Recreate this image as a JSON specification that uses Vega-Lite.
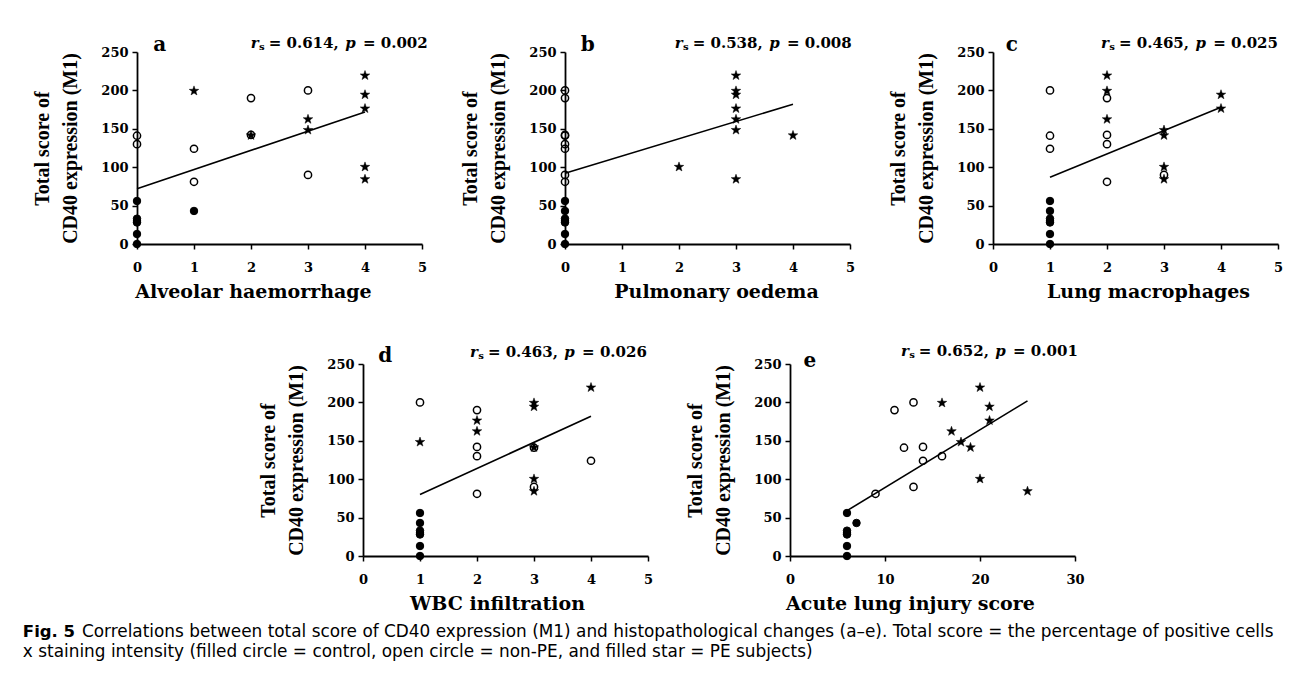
{
  "$schema": "https://vega.github.io/schema/vega-lite/v6.json",
  "background": "white",
  "padding": {"left": 22, "top": 35, "right": 5, "bottom": 5},
  "datasets": {
    "pts": [
      {"panel":"a","x":0,"y":56,"group":"control"},{"panel":"a","x":0,"y":33,"group":"control"},{"panel":"a","x":0,"y":30,"group":"control"},{"panel":"a","x":0,"y":28,"group":"control"},{"panel":"a","x":0,"y":13,"group":"control"},{"panel":"a","x":0,"y":0,"group":"control"},{"panel":"a","x":1,"y":43,"group":"control"},
      {"panel":"a","x":0,"y":141,"group":"non-PE"},{"panel":"a","x":0,"y":130,"group":"non-PE"},{"panel":"a","x":1,"y":124,"group":"non-PE"},{"panel":"a","x":1,"y":81,"group":"non-PE"},{"panel":"a","x":2,"y":190,"group":"non-PE"},{"panel":"a","x":2,"y":142,"group":"non-PE"},{"panel":"a","x":3,"y":200,"group":"non-PE"},{"panel":"a","x":3,"y":90,"group":"non-PE"},
      {"panel":"a","x":1,"y":200,"group":"PE"},{"panel":"a","x":2,"y":142,"group":"PE"},{"panel":"a","x":3,"y":163,"group":"PE"},{"panel":"a","x":3,"y":149,"group":"PE"},{"panel":"a","x":4,"y":220,"group":"PE"},{"panel":"a","x":4,"y":195,"group":"PE"},{"panel":"a","x":4,"y":177,"group":"PE"},{"panel":"a","x":4,"y":101,"group":"PE"},{"panel":"a","x":4,"y":85,"group":"PE"},

      {"panel":"b","x":0,"y":56,"group":"control"},{"panel":"b","x":0,"y":43,"group":"control"},{"panel":"b","x":0,"y":33,"group":"control"},{"panel":"b","x":0,"y":30,"group":"control"},{"panel":"b","x":0,"y":28,"group":"control"},{"panel":"b","x":0,"y":13,"group":"control"},{"panel":"b","x":0,"y":0,"group":"control"},
      {"panel":"b","x":0,"y":200,"group":"non-PE"},{"panel":"b","x":0,"y":190,"group":"non-PE"},{"panel":"b","x":0,"y":142,"group":"non-PE"},{"panel":"b","x":0,"y":141,"group":"non-PE"},{"panel":"b","x":0,"y":130,"group":"non-PE"},{"panel":"b","x":0,"y":124,"group":"non-PE"},{"panel":"b","x":0,"y":90,"group":"non-PE"},{"panel":"b","x":0,"y":81,"group":"non-PE"},
      {"panel":"b","x":2,"y":101,"group":"PE"},{"panel":"b","x":3,"y":220,"group":"PE"},{"panel":"b","x":3,"y":200,"group":"PE"},{"panel":"b","x":3,"y":195,"group":"PE"},{"panel":"b","x":3,"y":177,"group":"PE"},{"panel":"b","x":3,"y":163,"group":"PE"},{"panel":"b","x":3,"y":149,"group":"PE"},{"panel":"b","x":3,"y":85,"group":"PE"},{"panel":"b","x":4,"y":142,"group":"PE"},

      {"panel":"c","x":1,"y":56,"group":"control"},{"panel":"c","x":1,"y":43,"group":"control"},{"panel":"c","x":1,"y":33,"group":"control"},{"panel":"c","x":1,"y":30,"group":"control"},{"panel":"c","x":1,"y":28,"group":"control"},{"panel":"c","x":1,"y":13,"group":"control"},{"panel":"c","x":1,"y":0,"group":"control"},
      {"panel":"c","x":1,"y":200,"group":"non-PE"},{"panel":"c","x":1,"y":141,"group":"non-PE"},{"panel":"c","x":1,"y":124,"group":"non-PE"},{"panel":"c","x":2,"y":190,"group":"non-PE"},{"panel":"c","x":2,"y":142,"group":"non-PE"},{"panel":"c","x":2,"y":130,"group":"non-PE"},{"panel":"c","x":2,"y":81,"group":"non-PE"},{"panel":"c","x":3,"y":90,"group":"non-PE"},
      {"panel":"c","x":2,"y":220,"group":"PE"},{"panel":"c","x":2,"y":200,"group":"PE"},{"panel":"c","x":2,"y":163,"group":"PE"},{"panel":"c","x":3,"y":149,"group":"PE"},{"panel":"c","x":3,"y":142,"group":"PE"},{"panel":"c","x":3,"y":101,"group":"PE"},{"panel":"c","x":3,"y":85,"group":"PE"},{"panel":"c","x":4,"y":195,"group":"PE"},{"panel":"c","x":4,"y":177,"group":"PE"},

      {"panel":"d","x":1,"y":56,"group":"control"},{"panel":"d","x":1,"y":43,"group":"control"},{"panel":"d","x":1,"y":33,"group":"control"},{"panel":"d","x":1,"y":30,"group":"control"},{"panel":"d","x":1,"y":28,"group":"control"},{"panel":"d","x":1,"y":13,"group":"control"},{"panel":"d","x":1,"y":0,"group":"control"},
      {"panel":"d","x":1,"y":200,"group":"non-PE"},{"panel":"d","x":2,"y":190,"group":"non-PE"},{"panel":"d","x":2,"y":142,"group":"non-PE"},{"panel":"d","x":2,"y":130,"group":"non-PE"},{"panel":"d","x":2,"y":81,"group":"non-PE"},{"panel":"d","x":3,"y":141,"group":"non-PE"},{"panel":"d","x":3,"y":90,"group":"non-PE"},{"panel":"d","x":4,"y":124,"group":"non-PE"},
      {"panel":"d","x":1,"y":149,"group":"PE"},{"panel":"d","x":2,"y":177,"group":"PE"},{"panel":"d","x":2,"y":163,"group":"PE"},{"panel":"d","x":3,"y":200,"group":"PE"},{"panel":"d","x":3,"y":195,"group":"PE"},{"panel":"d","x":3,"y":142,"group":"PE"},{"panel":"d","x":3,"y":101,"group":"PE"},{"panel":"d","x":3,"y":85,"group":"PE"},{"panel":"d","x":4,"y":220,"group":"PE"},

      {"panel":"e","x":6,"y":56,"group":"control"},{"panel":"e","x":7,"y":43,"group":"control"},{"panel":"e","x":6,"y":33,"group":"control"},{"panel":"e","x":6,"y":30,"group":"control"},{"panel":"e","x":6,"y":28,"group":"control"},{"panel":"e","x":6,"y":13,"group":"control"},{"panel":"e","x":6,"y":0,"group":"control"},
      {"panel":"e","x":9,"y":81,"group":"non-PE"},{"panel":"e","x":11,"y":190,"group":"non-PE"},{"panel":"e","x":12,"y":141,"group":"non-PE"},{"panel":"e","x":13,"y":200,"group":"non-PE"},{"panel":"e","x":13,"y":90,"group":"non-PE"},{"panel":"e","x":14,"y":142,"group":"non-PE"},{"panel":"e","x":14,"y":124,"group":"non-PE"},{"panel":"e","x":16,"y":130,"group":"non-PE"},
      {"panel":"e","x":16,"y":200,"group":"PE"},{"panel":"e","x":17,"y":163,"group":"PE"},{"panel":"e","x":18,"y":149,"group":"PE"},{"panel":"e","x":19,"y":142,"group":"PE"},{"panel":"e","x":20,"y":220,"group":"PE"},{"panel":"e","x":20,"y":101,"group":"PE"},{"panel":"e","x":21,"y":195,"group":"PE"},{"panel":"e","x":21,"y":177,"group":"PE"},{"panel":"e","x":25,"y":85,"group":"PE"}
    ],
    "fit": [
      {"panel":"a","x":0,"y":72,"x2":4,"y2":172},
      {"panel":"b","x":0,"y":92,"x2":4,"y2":182},
      {"panel":"c","x":1,"y":87,"x2":4,"y2":178},
      {"panel":"d","x":1,"y":80,"x2":4,"y2":182},
      {"panel":"e","x":6,"y":59,"x2":25,"y2":202}
    ],
    "letters": [
      {"panel":"a","x":0.4,"y":259,"label":"a"},
      {"panel":"b","x":0.4,"y":259,"label":"b"},
      {"panel":"c","x":0.33,"y":259,"label":"c"},
      {"panel":"d","x":0.39,"y":260,"label":"d"},
      {"panel":"e","x":2.1,"y":254,"label":"e"}
    ],
    "stats": [
      {"panel":"a","x":5.1,"y":262,"rs":"= 0.614,","pv":"= 0.002"},
      {"panel":"b","x":5.03,"y":262,"rs":"= 0.538,","pv":"= 0.008"},
      {"panel":"c","x":5.0,"y":262,"rs":"= 0.465,","pv":"= 0.025"},
      {"panel":"d","x":4.98,"y":265,"rs":"= 0.463,","pv":"= 0.026"},
      {"panel":"e","x":30.3,"y":267,"rs":"= 0.652,","pv":"= 0.001"}
    ]
  },
  "title": {
    "text": "Fig. 5",
    "subtitle": ["\u200b\u00a0\u00a0\u00a0\u00a0\u00a0\u00a0\u00a0\u00a0\u00a0\u00a0\u00a0Correlations between total score of CD40 expression (M1) and histopathological changes (a\u2013e). Total score = the percentage of positive cells", "x staining intensity (filled circle = control, open circle = non-PE, and filled star = PE subjects)"],
    "orient": "bottom",
    "anchor": "start",
    "frame": "bounds",
    "offset": 11,
    "dx": -10,
    "font": "DejaVu Sans",
    "fontSize": 16.5,
    "fontWeight": "bold",
    "color": "black",
    "subtitleFont": "DejaVu Sans",
    "subtitleFontSize": 16.9,
    "subtitleColor": "black",
    "subtitleLineHeight": 20,
    "subtitlePadding": -17
  },
  "spacing": 42,
  "vconcat": [
    {
      "hconcat": [
        {
          "width": 285, "height": 192,
          "encoding": {
            "x": {"field": "x", "type": "quantitative", "scale": {"domain": [0, 5], "nice": false, "zero": false}, "axis": {"title": "Alveolar haemorrhage", "values": [0, 1, 2, 3, 4, 5], "titleX": 116}},
            "y": {"field": "y", "type": "quantitative", "scale": {"domain": [0, 250], "nice": false}, "axis": {"title": ["Total score of", "CD40 expression (M1)"], "values": [0, 50, 100, 150, 200, 250]}}
          },
          "layer": [
            {"data": {"name": "pts"}, "transform": [{"filter": "datum.panel === 'a'"}], "mark": {"type": "point", "filled": true, "fill": "black", "stroke": "black", "opacity": 1},
             "encoding": {
               "shape": {"field": "group", "type": "nominal", "scale": {"domain": ["control", "non-PE", "PE"], "range": ["circle", "circle", "M0,-0.905L0.235,-0.229L0.951,-0.214L0.38,0.219L0.588,0.904L0,0.495L-0.588,0.904L-0.38,0.219L-0.951,-0.214L-0.235,-0.229Z"]}, "legend": null},
               "fillOpacity": {"field": "group", "type": "nominal", "scale": {"type": "ordinal", "domain": ["control", "non-PE", "PE"], "range": [1, 0, 1]}, "legend": null},
               "size": {"field": "group", "type": "nominal", "scale": {"type": "ordinal", "domain": ["control", "non-PE", "PE"], "range": [56, 52, 100]}, "legend": null},
               "strokeWidth": {"field": "group", "type": "nominal", "scale": {"type": "ordinal", "domain": ["control", "non-PE", "PE"], "range": [1, 1.5, 0.5]}, "legend": null}
             }},
            {"data": {"name": "fit"}, "transform": [{"filter": "datum.panel === 'a'"}], "mark": {"type": "rule", "color": "black", "strokeWidth": 1.6}, "encoding": {"x2": {"field": "x2"}, "y2": {"field": "y2"}}},
            {"data": {"name": "letters"}, "transform": [{"filter": "datum.panel === 'a'"}], "mark": {"type": "text", "style": "letter"}, "encoding": {"text": {"field": "label"}}},
            {"data": {"name": "stats"}, "transform": [{"filter": "datum.panel === 'a'"}], "mark": {"type": "text", "style": "stat", "fontStyle": "italic", "dx": -169}, "encoding": {"text": {"value": "r"}}},
            {"data": {"name": "stats"}, "transform": [{"filter": "datum.panel === 'a'"}], "mark": {"type": "text", "style": "stat", "fontSize": 10, "dx": -163, "dy": 4}, "encoding": {"text": {"value": "s"}}},
            {"data": {"name": "stats"}, "transform": [{"filter": "datum.panel === 'a'"}], "mark": {"type": "text", "style": "stat", "dx": -89}, "encoding": {"text": {"field": "rs"}}},
            {"data": {"name": "stats"}, "transform": [{"filter": "datum.panel === 'a'"}], "mark": {"type": "text", "style": "stat", "fontStyle": "italic", "dx": -72}, "encoding": {"text": {"value": "p"}}},
            {"data": {"name": "stats"}, "transform": [{"filter": "datum.panel === 'a'"}], "mark": {"type": "text", "style": "stat"}, "encoding": {"text": {"field": "pv"}}}
          ]
        },
        {
          "width": 285, "height": 192,
          "encoding": {
            "x": {"field": "x", "type": "quantitative", "scale": {"domain": [0, 5], "nice": false, "zero": false}, "axis": {"title": "Pulmonary oedema", "values": [0, 1, 2, 3, 4, 5], "titleX": 151}},
            "y": {"field": "y", "type": "quantitative", "scale": {"domain": [0, 250], "nice": false}, "axis": {"title": ["Total score of", "CD40 expression (M1)"], "values": [0, 50, 100, 150, 200, 250]}}
          },
          "layer": [
            {"data": {"name": "pts"}, "transform": [{"filter": "datum.panel === 'b'"}], "mark": {"type": "point", "filled": true, "fill": "black", "stroke": "black", "opacity": 1},
             "encoding": {
               "shape": {"field": "group", "type": "nominal", "scale": {"domain": ["control", "non-PE", "PE"], "range": ["circle", "circle", "M0,-0.905L0.235,-0.229L0.951,-0.214L0.38,0.219L0.588,0.904L0,0.495L-0.588,0.904L-0.38,0.219L-0.951,-0.214L-0.235,-0.229Z"]}, "legend": null},
               "fillOpacity": {"field": "group", "type": "nominal", "scale": {"type": "ordinal", "domain": ["control", "non-PE", "PE"], "range": [1, 0, 1]}, "legend": null},
               "size": {"field": "group", "type": "nominal", "scale": {"type": "ordinal", "domain": ["control", "non-PE", "PE"], "range": [56, 52, 100]}, "legend": null},
               "strokeWidth": {"field": "group", "type": "nominal", "scale": {"type": "ordinal", "domain": ["control", "non-PE", "PE"], "range": [1, 1.5, 0.5]}, "legend": null}
             }},
            {"data": {"name": "fit"}, "transform": [{"filter": "datum.panel === 'b'"}], "mark": {"type": "rule", "color": "black", "strokeWidth": 1.6}, "encoding": {"x2": {"field": "x2"}, "y2": {"field": "y2"}}},
            {"data": {"name": "letters"}, "transform": [{"filter": "datum.panel === 'b'"}], "mark": {"type": "text", "style": "letter"}, "encoding": {"text": {"field": "label"}}},
            {"data": {"name": "stats"}, "transform": [{"filter": "datum.panel === 'b'"}], "mark": {"type": "text", "style": "stat", "fontStyle": "italic", "dx": -169}, "encoding": {"text": {"value": "r"}}},
            {"data": {"name": "stats"}, "transform": [{"filter": "datum.panel === 'b'"}], "mark": {"type": "text", "style": "stat", "fontSize": 10, "dx": -163, "dy": 4}, "encoding": {"text": {"value": "s"}}},
            {"data": {"name": "stats"}, "transform": [{"filter": "datum.panel === 'b'"}], "mark": {"type": "text", "style": "stat", "dx": -89}, "encoding": {"text": {"field": "rs"}}},
            {"data": {"name": "stats"}, "transform": [{"filter": "datum.panel === 'b'"}], "mark": {"type": "text", "style": "stat", "fontStyle": "italic", "dx": -72}, "encoding": {"text": {"value": "p"}}},
            {"data": {"name": "stats"}, "transform": [{"filter": "datum.panel === 'b'"}], "mark": {"type": "text", "style": "stat"}, "encoding": {"text": {"field": "pv"}}}
          ]
        },
        {
          "width": 285, "height": 192,
          "encoding": {
            "x": {"field": "x", "type": "quantitative", "scale": {"domain": [0, 5], "nice": false, "zero": false}, "axis": {"title": "Lung macrophages", "values": [0, 1, 2, 3, 4, 5], "titleX": 155}},
            "y": {"field": "y", "type": "quantitative", "scale": {"domain": [0, 250], "nice": false}, "axis": {"title": ["Total score of", "CD40 expression (M1)"], "values": [0, 50, 100, 150, 200, 250]}}
          },
          "layer": [
            {"data": {"name": "pts"}, "transform": [{"filter": "datum.panel === 'c'"}], "mark": {"type": "point", "filled": true, "fill": "black", "stroke": "black", "opacity": 1},
             "encoding": {
               "shape": {"field": "group", "type": "nominal", "scale": {"domain": ["control", "non-PE", "PE"], "range": ["circle", "circle", "M0,-0.905L0.235,-0.229L0.951,-0.214L0.38,0.219L0.588,0.904L0,0.495L-0.588,0.904L-0.38,0.219L-0.951,-0.214L-0.235,-0.229Z"]}, "legend": null},
               "fillOpacity": {"field": "group", "type": "nominal", "scale": {"type": "ordinal", "domain": ["control", "non-PE", "PE"], "range": [1, 0, 1]}, "legend": null},
               "size": {"field": "group", "type": "nominal", "scale": {"type": "ordinal", "domain": ["control", "non-PE", "PE"], "range": [56, 52, 100]}, "legend": null},
               "strokeWidth": {"field": "group", "type": "nominal", "scale": {"type": "ordinal", "domain": ["control", "non-PE", "PE"], "range": [1, 1.5, 0.5]}, "legend": null}
             }},
            {"data": {"name": "fit"}, "transform": [{"filter": "datum.panel === 'c'"}], "mark": {"type": "rule", "color": "black", "strokeWidth": 1.6}, "encoding": {"x2": {"field": "x2"}, "y2": {"field": "y2"}}},
            {"data": {"name": "letters"}, "transform": [{"filter": "datum.panel === 'c'"}], "mark": {"type": "text", "style": "letter"}, "encoding": {"text": {"field": "label"}}},
            {"data": {"name": "stats"}, "transform": [{"filter": "datum.panel === 'c'"}], "mark": {"type": "text", "style": "stat", "fontStyle": "italic", "dx": -169}, "encoding": {"text": {"value": "r"}}},
            {"data": {"name": "stats"}, "transform": [{"filter": "datum.panel === 'c'"}], "mark": {"type": "text", "style": "stat", "fontSize": 10, "dx": -163, "dy": 4}, "encoding": {"text": {"value": "s"}}},
            {"data": {"name": "stats"}, "transform": [{"filter": "datum.panel === 'c'"}], "mark": {"type": "text", "style": "stat", "dx": -89}, "encoding": {"text": {"field": "rs"}}},
            {"data": {"name": "stats"}, "transform": [{"filter": "datum.panel === 'c'"}], "mark": {"type": "text", "style": "stat", "fontStyle": "italic", "dx": -72}, "encoding": {"text": {"value": "p"}}},
            {"data": {"name": "stats"}, "transform": [{"filter": "datum.panel === 'c'"}], "mark": {"type": "text", "style": "stat"}, "encoding": {"text": {"field": "pv"}}}
          ]
        }
      ],
      "spacing": 143,
      "bounds": "flush"
    },
    {
      "hconcat": [
        {
          "width": 84, "height": 192,
          "data": {"values": []},
          "mark": {"type": "point", "opacity": 0},
          "encoding": {}
        },
        {
          "width": 285, "height": 192,
          "encoding": {
            "x": {"field": "x", "type": "quantitative", "scale": {"domain": [0, 5], "nice": false, "zero": false}, "axis": {"title": "WBC infiltration", "values": [0, 1, 2, 3, 4, 5], "titleX": 134}},
            "y": {"field": "y", "type": "quantitative", "scale": {"domain": [0, 250], "nice": false}, "axis": {"title": ["Total score of", "CD40 expression (M1)"], "values": [0, 50, 100, 150, 200, 250]}}
          },
          "layer": [
            {"data": {"name": "pts"}, "transform": [{"filter": "datum.panel === 'd'"}], "mark": {"type": "point", "filled": true, "fill": "black", "stroke": "black", "opacity": 1},
             "encoding": {
               "shape": {"field": "group", "type": "nominal", "scale": {"domain": ["control", "non-PE", "PE"], "range": ["circle", "circle", "M0,-0.905L0.235,-0.229L0.951,-0.214L0.38,0.219L0.588,0.904L0,0.495L-0.588,0.904L-0.38,0.219L-0.951,-0.214L-0.235,-0.229Z"]}, "legend": null},
               "fillOpacity": {"field": "group", "type": "nominal", "scale": {"type": "ordinal", "domain": ["control", "non-PE", "PE"], "range": [1, 0, 1]}, "legend": null},
               "size": {"field": "group", "type": "nominal", "scale": {"type": "ordinal", "domain": ["control", "non-PE", "PE"], "range": [56, 52, 100]}, "legend": null},
               "strokeWidth": {"field": "group", "type": "nominal", "scale": {"type": "ordinal", "domain": ["control", "non-PE", "PE"], "range": [1, 1.5, 0.5]}, "legend": null}
             }},
            {"data": {"name": "fit"}, "transform": [{"filter": "datum.panel === 'd'"}], "mark": {"type": "rule", "color": "black", "strokeWidth": 1.6}, "encoding": {"x2": {"field": "x2"}, "y2": {"field": "y2"}}},
            {"data": {"name": "letters"}, "transform": [{"filter": "datum.panel === 'd'"}], "mark": {"type": "text", "style": "letter"}, "encoding": {"text": {"field": "label"}}},
            {"data": {"name": "stats"}, "transform": [{"filter": "datum.panel === 'd'"}], "mark": {"type": "text", "style": "stat", "fontStyle": "italic", "dx": -169}, "encoding": {"text": {"value": "r"}}},
            {"data": {"name": "stats"}, "transform": [{"filter": "datum.panel === 'd'"}], "mark": {"type": "text", "style": "stat", "fontSize": 10, "dx": -163, "dy": 4}, "encoding": {"text": {"value": "s"}}},
            {"data": {"name": "stats"}, "transform": [{"filter": "datum.panel === 'd'"}], "mark": {"type": "text", "style": "stat", "dx": -89}, "encoding": {"text": {"field": "rs"}}},
            {"data": {"name": "stats"}, "transform": [{"filter": "datum.panel === 'd'"}], "mark": {"type": "text", "style": "stat", "fontStyle": "italic", "dx": -72}, "encoding": {"text": {"value": "p"}}},
            {"data": {"name": "stats"}, "transform": [{"filter": "datum.panel === 'd'"}], "mark": {"type": "text", "style": "stat"}, "encoding": {"text": {"field": "pv"}}}
          ]
        },
        {
          "width": 285, "height": 192,
          "encoding": {
            "x": {"field": "x", "type": "quantitative", "scale": {"domain": [0, 30], "nice": false, "zero": false}, "axis": {"title": "Acute lung injury score", "values": [0, 10, 20, 30], "titleX": 120}},
            "y": {"field": "y", "type": "quantitative", "scale": {"domain": [0, 250], "nice": false}, "axis": {"title": ["Total score of", "CD40 expression (M1)"], "values": [0, 50, 100, 150, 200, 250]}}
          },
          "layer": [
            {"data": {"name": "pts"}, "transform": [{"filter": "datum.panel === 'e'"}], "mark": {"type": "point", "filled": true, "fill": "black", "stroke": "black", "opacity": 1},
             "encoding": {
               "shape": {"field": "group", "type": "nominal", "scale": {"domain": ["control", "non-PE", "PE"], "range": ["circle", "circle", "M0,-0.905L0.235,-0.229L0.951,-0.214L0.38,0.219L0.588,0.904L0,0.495L-0.588,0.904L-0.38,0.219L-0.951,-0.214L-0.235,-0.229Z"]}, "legend": null},
               "fillOpacity": {"field": "group", "type": "nominal", "scale": {"type": "ordinal", "domain": ["control", "non-PE", "PE"], "range": [1, 0, 1]}, "legend": null},
               "size": {"field": "group", "type": "nominal", "scale": {"type": "ordinal", "domain": ["control", "non-PE", "PE"], "range": [56, 52, 100]}, "legend": null},
               "strokeWidth": {"field": "group", "type": "nominal", "scale": {"type": "ordinal", "domain": ["control", "non-PE", "PE"], "range": [1, 1.5, 0.5]}, "legend": null}
             }},
            {"data": {"name": "fit"}, "transform": [{"filter": "datum.panel === 'e'"}], "mark": {"type": "rule", "color": "black", "strokeWidth": 1.6}, "encoding": {"x2": {"field": "x2"}, "y2": {"field": "y2"}}},
            {"data": {"name": "letters"}, "transform": [{"filter": "datum.panel === 'e'"}], "mark": {"type": "text", "style": "letter"}, "encoding": {"text": {"field": "label"}}},
            {"data": {"name": "stats"}, "transform": [{"filter": "datum.panel === 'e'"}], "mark": {"type": "text", "style": "stat", "fontStyle": "italic", "dx": -169}, "encoding": {"text": {"value": "r"}}},
            {"data": {"name": "stats"}, "transform": [{"filter": "datum.panel === 'e'"}], "mark": {"type": "text", "style": "stat", "fontSize": 10, "dx": -163, "dy": 4}, "encoding": {"text": {"value": "s"}}},
            {"data": {"name": "stats"}, "transform": [{"filter": "datum.panel === 'e'"}], "mark": {"type": "text", "style": "stat", "dx": -89}, "encoding": {"text": {"field": "rs"}}},
            {"data": {"name": "stats"}, "transform": [{"filter": "datum.panel === 'e'"}], "mark": {"type": "text", "style": "stat", "fontStyle": "italic", "dx": -72}, "encoding": {"text": {"value": "p"}}},
            {"data": {"name": "stats"}, "transform": [{"filter": "datum.panel === 'e'"}], "mark": {"type": "text", "style": "stat"}, "encoding": {"text": {"field": "pv"}}}
          ]
        }
      ],
      "spacing": 142,
      "bounds": "flush"
    }
  ],
  "config": {
    "view": {"stroke": null},
    "axis": {"domainColor": "black", "domainWidth": 1.8, "tickColor": "black", "tickWidth": 1.5, "tickSize": 5, "grid": false, "labelFont": "DejaVu Serif", "labelFontWeight": "bold", "labelFontSize": 13, "labelColor": "black", "labelFlush": false, "labelOverlap": false, "titleColor": "black"},
    "axisX": {"labelPadding": 12, "titlePadding": 8, "titleFont": "DejaVu Serif", "titleFontSize": 19, "titleFontWeight": "bold"},
    "axisY": {"labelPadding": 4, "titlePadding": 20, "titleFont": "Liberation Serif", "titleFontSize": 20, "titleFontWeight": "bold", "titleLineHeight": 28},
    "style": {
      "letter": {"font": "DejaVu Serif", "fontSize": 20, "fontWeight": "bold", "align": "center", "baseline": "middle", "fill": "black"},
      "stat": {"font": "DejaVu Serif", "fontSize": 15, "fontWeight": "bold", "align": "right", "baseline": "middle", "fill": "black"}
    }
  }
}
